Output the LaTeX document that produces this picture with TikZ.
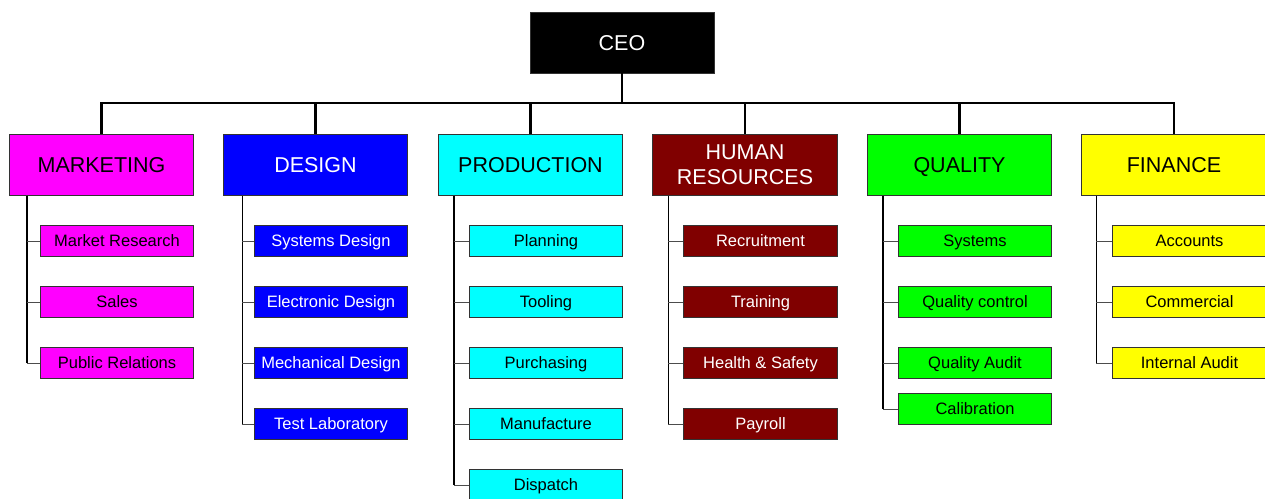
\documentclass[tikz,border=0pt]{standalone}
\usepackage{fontspec}
\setmainfont{Liberation Sans}
\definecolor{hrred}{RGB}{128,0,0}
\definecolor{mktpink}{RGB}{255,0,255}
\definecolor{dsgblue}{RGB}{0,0,255}
\definecolor{prdcyan}{RGB}{0,255,255}
\definecolor{qlygreen}{RGB}{0,255,0}
\definecolor{finyellow}{RGB}{255,255,0}
\tikzset{
  ceobox/.style={draw=black!80, line width=0.8pt, fill=black, text=white, minimum width=184pt, minimum height=61pt, inner sep=0pt, text height=15.4pt, text depth=0pt, font=\fontsize{21.5}{25.3}\selectfont},
  deptbox/.style={draw=black!80, line width=0.8pt, minimum width=184.5pt, minimum height=61pt, inner sep=0pt, text height=15.4pt, text depth=0pt, font=\fontsize{21.5}{25.3}\selectfont},
  subbox/.style={draw=black!80, line width=0.8pt, minimum width=153.5pt, minimum height=30.5pt, inner sep=0pt, text height=11.8pt, text depth=0pt, font=\fontsize{16.5}{19}\selectfont},
  busline/.style={line width=2.4pt, black},
  spine/.style={line width=1.6pt, black},
  branch/.style={line width=1pt, black!70}
}
\begin{document}
\begin{tikzpicture}[x=1pt, y=-1pt]
    \useasboundingbox (0,0) rectangle (1265,498);

    \node [ceobox] (ceo) at (622,42.5) {CEO};
    \coordinate (bus) at (0,103);

    \node [deptbox, fill=mktpink] (mkt) at (101.5,164.75) {MARKETING};
    \node [deptbox, fill=dsgblue, text=white] (dsg) at (315.5,164.75) {DESIGN};
    \node [deptbox, fill=prdcyan] (prd) at (530.5,164.75) {PRODUCTION};
    \node [deptbox, fill=hrred, text=white, text height=, text depth=, align=center] (hr) at (745,164.75) {HUMAN\\RESOURCES};
    \node [deptbox, fill=qlygreen] (qly) at (959.5,164.75) {QUALITY};
    \node [deptbox, fill=finyellow] (fin) at (1174,164.75) {FINANCE};

    \draw [busline] (ceo.south) -- (ceo.south |- bus);
    \draw [busline] (mkt.north) |- (fin.north |- bus) -- (fin.north);
    \draw [busline] (dsg.north) -- (dsg.north |- bus);
    \draw [busline] (prd.north) -- (prd.north |- bus);
    \draw [busline] (hr.north) -- (hr.north |- bus);
    \draw [busline] (qly.north) -- (qly.north |- bus);

    \node [subbox, fill=mktpink] (mkt1) at (117,241) {Market Research};
    \node [subbox, fill=mktpink] (mkt2) at (117,302) {Sales};
    \node [subbox, fill=mktpink] (mkt3) at (117,363) {Public Relations};

    \node [subbox, fill=dsgblue, text=white] (dsg1) at (331,241) {Systems Design};
    \node [subbox, fill=dsgblue, text=white] (dsg2) at (331,302) {Electronic Design};
    \node [subbox, fill=dsgblue, text=white] (dsg3) at (331,363) {Mechanical Design};
    \node [subbox, fill=dsgblue, text=white] (dsg4) at (331,424) {Test Laboratory};

    \node [subbox, fill=prdcyan] (prd1) at (546,241) {Planning};
    \node [subbox, fill=prdcyan] (prd2) at (546,302) {Tooling};
    \node [subbox, fill=prdcyan] (prd3) at (546,363) {Purchasing};
    \node [subbox, fill=prdcyan] (prd4) at (546,424) {Manufacture};
    \node [subbox, fill=prdcyan] (prd5) at (546,485) {Dispatch};

    \node [subbox, fill=hrred, text=white] (hr1) at (760.5,241) {Recruitment};
    \node [subbox, fill=hrred, text=white] (hr2) at (760.5,302) {Training};
    \node [subbox, fill=hrred, text=white] (hr3) at (760.5,363) {Health \& Safety};
    \node [subbox, fill=hrred, text=white] (hr4) at (760.5,424) {Payroll};

    \node [subbox, fill=qlygreen] (qly1) at (975,241) {Systems};
    \node [subbox, fill=qlygreen] (qly2) at (975,302) {Quality control};
    \node [subbox, fill=qlygreen] (qly3) at (975,363) {Quality Audit};
    \node [subbox, fill=qlygreen] (qly4) at (975,409) {Calibration};

    \node [subbox, fill=finyellow] (fin1) at (1189.5,241) {Accounts};
    \node [subbox, fill=finyellow] (fin2) at (1189.5,302) {Commercial};
    \node [subbox, fill=finyellow] (fin3) at (1189.5,363) {Internal Audit};

    \coordinate (mktsp) at ([xshift=18pt]mkt.south west);
    \coordinate (dsgsp) at ([xshift=19.5pt]dsg.south west);
    \coordinate (prdsp) at ([xshift=16pt]prd.south west);
    \coordinate (hrsp) at ([xshift=16pt]hr.south west);
    \coordinate (qlysp) at ([xshift=16pt]qly.south west);
    \coordinate (finsp) at ([xshift=15pt]fin.south west);

    \draw [spine] (mktsp) -- (mktsp |- mkt3.west);
    \draw [branch] (mktsp |- mkt1.west) -- (mkt1.west);
    \draw [branch] (mktsp |- mkt2.west) -- (mkt2.west);
    \draw [branch] (mktsp |- mkt3.west) -- (mkt3.west);

    \draw [spine] (dsgsp) -- (dsgsp |- dsg4.west);
    \draw [branch] (dsgsp |- dsg1.west) -- (dsg1.west);
    \draw [branch] (dsgsp |- dsg2.west) -- (dsg2.west);
    \draw [branch] (dsgsp |- dsg3.west) -- (dsg3.west);
    \draw [branch] (dsgsp |- dsg4.west) -- (dsg4.west);

    \draw [spine] (prdsp) -- (prdsp |- prd5.west);
    \draw [branch] (prdsp |- prd1.west) -- (prd1.west);
    \draw [branch] (prdsp |- prd2.west) -- (prd2.west);
    \draw [branch] (prdsp |- prd3.west) -- (prd3.west);
    \draw [branch] (prdsp |- prd4.west) -- (prd4.west);
    \draw [branch] (prdsp |- prd5.west) -- (prd5.west);

    \draw [spine] (hrsp) -- (hrsp |- hr4.west);
    \draw [branch] (hrsp |- hr1.west) -- (hr1.west);
    \draw [branch] (hrsp |- hr2.west) -- (hr2.west);
    \draw [branch] (hrsp |- hr3.west) -- (hr3.west);
    \draw [branch] (hrsp |- hr4.west) -- (hr4.west);

    \draw [spine] (qlysp) -- (qlysp |- qly4.west);
    \draw [branch] (qlysp |- qly1.west) -- (qly1.west);
    \draw [branch] (qlysp |- qly2.west) -- (qly2.west);
    \draw [branch] (qlysp |- qly3.west) -- (qly3.west);
    \draw [branch] (qlysp |- qly4.west) -- (qly4.west);

    \draw [spine] (finsp) -- (finsp |- fin3.west);
    \draw [branch] (finsp |- fin1.west) -- (fin1.west);
    \draw [branch] (finsp |- fin2.west) -- (fin2.west);
    \draw [branch] (finsp |- fin3.west) -- (fin3.west);
\end{tikzpicture}
\end{document}
